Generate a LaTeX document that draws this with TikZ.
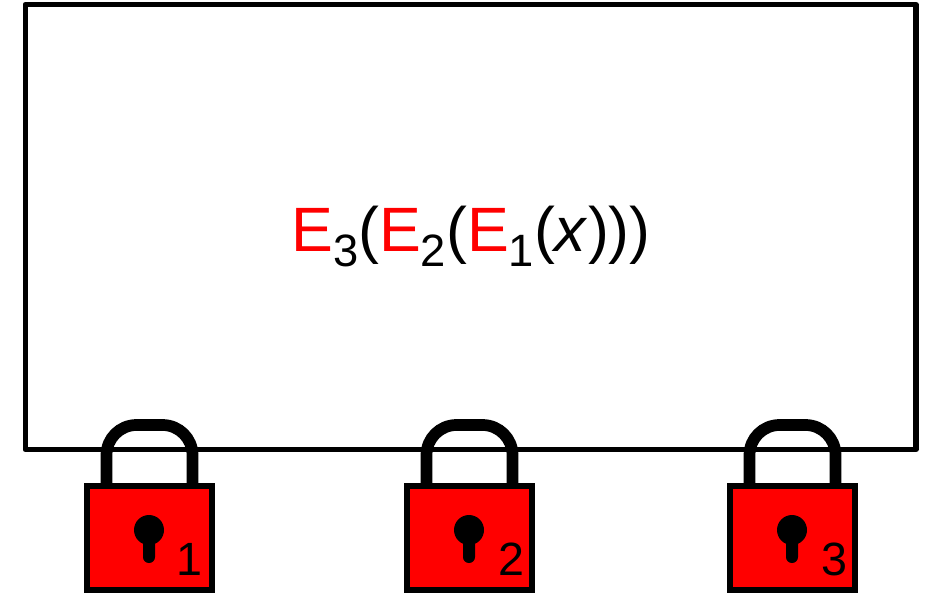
\documentclass[tikz,border=0pt]{standalone}
\usepackage{fontspec}
\setmainfont{Liberation Sans}
\definecolor{lockred}{RGB}{255,0,0}
\newcommand{\Esub}[1]{\textcolor{lockred}{E}\raisebox{-11.8pt}{\fontsize{34pt}{38pt}\selectfont #1}}
\tikzset{
  x=0.75pt,y=-0.75pt,
  box/.style={draw=black,line width=4pt,minimum width=668pt,minimum height=333.75pt,inner sep=0pt,line join=round},
  formula/.style={font=\fontsize{47pt}{54pt}\selectfont,inner sep=0pt,anchor=base},
  shackle/.style={draw=black,line width=8.8pt},
  lockbody/.style={draw=black,fill=lockred,line width=4.5pt,minimum width=93.75pt,minimum height=78pt,inner sep=0pt},
  keyhole/.style={fill=black,draw=none},
  lockdigit/.style={font=\fontsize{35pt}{40pt}\selectfont,inner sep=0pt,anchor=base}
}
\newcommand{\padlock}[3]{%
  \begin{scope}[xshift=#1*0.75pt]
    \draw[shackle] (106.5,484) -- (106.5,455) arc[start angle=180,end angle=90,x radius=30,y radius=-30] -- (162.5,425) arc[start angle=90,end angle=0,x radius=30,y radius=-30] -- (192.5,484);
    \node[lockbody] (body#3) at (149.5,538) {};
    \fill[keyhole] (149,530) circle[radius=15];
    \fill[keyhole,rounded corners=5.9*0.75pt] (143,530) rectangle (155,563);
    \node[lockdigit] (digit#3) at (#2,575) {#3};
  \end{scope}}
\begin{document}
\begin{tikzpicture}
\useasboundingbox (0,0) rectangle (927,593);
\node[box] (vault) at (470.5,227) {};
\node[formula] (cipher) at (471,251) {\Esub{3}(\Esub{2}(\Esub{1}(\textit{x})))};
\padlock{0}{189}{1}
\padlock{320}{191}{2}
\padlock{643}{191}{3}
\end{tikzpicture}
\end{document}
